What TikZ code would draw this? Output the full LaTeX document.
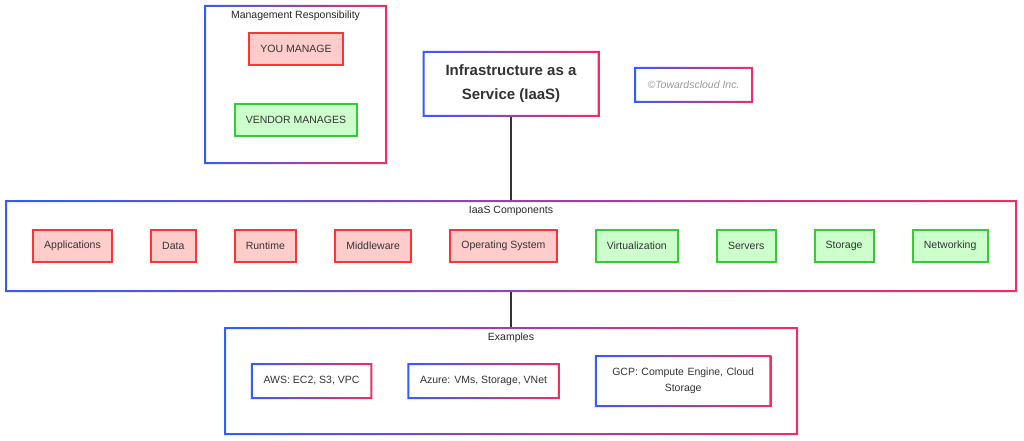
\documentclass[tikz,border=0pt]{standalone}
\usepackage{fontspec}
\setmainfont{Liberation Sans}
\usetikzlibrary{positioning}

\definecolor{gblue}{RGB}{52,92,250}
\definecolor{gpink}{RGB}{242,45,95}
\definecolor{youfill}{RGB}{255,204,204}
\definecolor{youline}{RGB}{255,51,51}
\definecolor{venfill}{RGB}{204,255,204}
\definecolor{venline}{RGB}{51,204,51}
\definecolor{ink}{RGB}{51,51,51}

% gradient outline round a named node
\newcommand{\gradframe}[1]{%
  \shade[left color=gblue, right color=gpink, even odd rule]
    ([shift={(-1pt,-1pt)}]#1.south west) rectangle ([shift={(1pt,1pt)}]#1.north east)
    ([shift={(1pt,1pt)}]#1.south west) rectangle ([shift={(-1pt,-1pt)}]#1.north east);}

\begin{document}
\begin{tikzpicture}[x=1pt, y=-1pt, node distance=37pt, font=\fontsize{10.5}{12}\selectfont,
    you/.style = {draw=youline, fill=youfill, line width=2pt, text=ink, inner xsep=11.2pt, minimum height=32pt},
    vendor/.style = {you, draw=venline, fill=venfill},
    group/.style = {inner sep=0pt, outer sep=1pt},
    cloud/.style = {group, inner xsep=10.8pt, minimum height=32pt, text=ink},
    caption/.style = {font=\fontsize{10.5}{12}\selectfont, text=black!85}]
    \useasboundingbox (0,0) rectangle (1024,441);

    % containers
    \node[group, minimum width=179pt, minimum height=155pt] (mgmt) at (295.5,84.5) {};
    \node[group, minimum width=173pt, minimum height=62pt, align=center, text=ink,
        font=\fontsize{15}{24}\selectfont\bfseries] (infra) at (511,84) {Infrastructure as a\\Service (IaaS)};
    \node[group, minimum width=115pt, minimum height=32pt, text=black!40,
        font=\fontsize{10.5}{12}\selectfont\itshape] (copy) at (693.5,85) {©Towardscloud Inc.};
    \node[group, minimum width=1008pt, minimum height=88pt] (comp) at (511,246) {};
    \node[group, minimum width=570pt, minimum height=104pt] (ex) at (511,381) {};

    \node[caption] (mgmttitle) at (295.5,15.5) {Management Responsibility};
    \node[caption] (comptitle) at (511,210.5) {IaaS Components};
    \node[caption] (extitle) at (511,337.5) {Examples};

    % legend
    \node[you] (you) at (296,49) {YOU MANAGE};
    \node[vendor, below=of you] (vendor) {VENDOR MANAGES};

    % components
    \node[you] (apps) at (72.5,246) {Applications};
    \node[you, right=of apps] (data) {Data};
    \node[you, right=of data] (runtime) {Runtime};
    \node[you, right=of runtime] (middle) {Middleware};
    \node[you, right=of middle] (os) {Operating System};
    \node[vendor, right=of os] (virt) {Virtualization};
    \node[vendor, right=of virt] (servers) {Servers};
    \node[vendor, right=of servers] (storage) {Storage};
    \node[vendor, right=of storage] (net) {Networking};

    % examples
    \node[cloud] (aws) at (311.5,381) {AWS: EC2, S3, VPC};
    \node[cloud, right=of aws] (azure) {Azure: VMs, Storage, VNet};
    \node[cloud, right=of azure, text width=151pt, align=center, minimum height=48pt,
        font=\fontsize{10.5}{16}\selectfont] (gcp) {GCP: Compute Engine, Cloud\\Storage};

    \draw[line width=2pt, ink] (infra.south) -- (comp.north);
    \draw[line width=2pt, ink] (comp.south) -- (ex.north);

    \foreach \n in {mgmt, infra, copy, comp, ex, aws, azure, gcp} {\gradframe{\n}}
\end{tikzpicture}
\end{document}
